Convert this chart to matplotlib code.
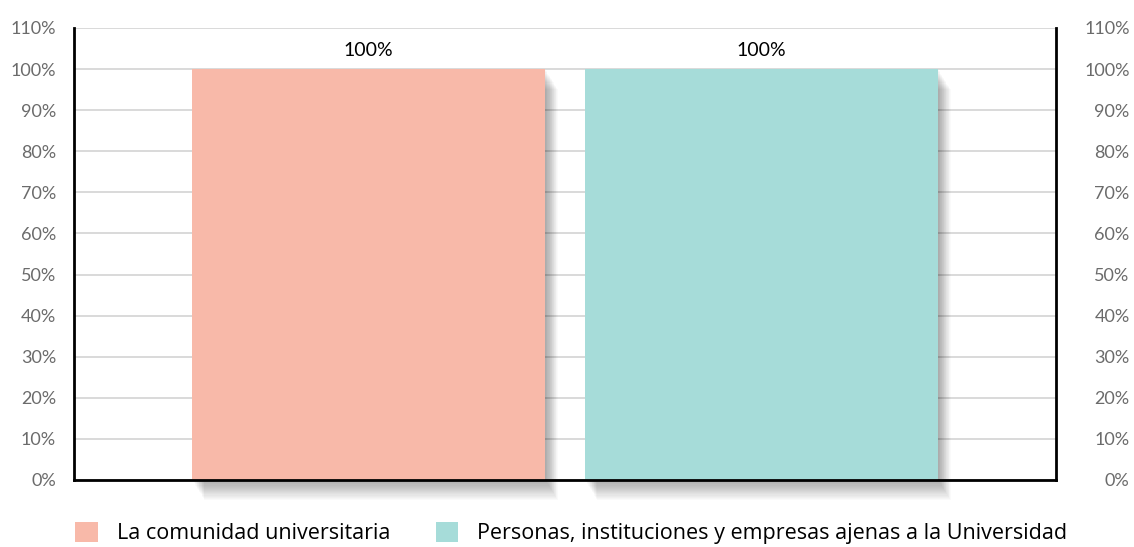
import matplotlib.pyplot as plt
import matplotlib.patheffects as pe
from matplotlib.patches import Patch

# Datos
categorias = ['La comunidad universitaria',
              'Personas, instituciones y empresas ajenas a la Universidad']
valores = [100, 100]
colores = ['#f8b9a9', '#a6dcd9']
ticks_y = list(range(0, 111, 10))

fig = plt.figure(figsize=(11.34, 5.47), dpi=100)
ax = fig.add_axes([74 / 1134, 1 - 480 / 547, 982 / 1134, 452 / 547])

# Sombra difuminada de las barras (varias capas desplazadas)
sombra = [pe.SimplePatchShadow(offset=(0.5 * k, -0.8 * k), shadow_rgbFace='black', alpha=0.02)
          for k in range(1, 19)]
sombra.append(pe.Normal())

x = range(len(valores))
barras = ax.bar(x, valores, width=0.9, color=colores, zorder=2, clip_on=False)
for b in barras:
    b.set_path_effects(sombra)

# Etiquetas de valor encima de cada barra
for xi, v in zip(x, valores):
    ax.text(xi, v + 2.5, f'{v}%', ha='center', va='bottom', fontsize=14,
            family='Lato', color='black')

ax.set_xlim(-0.75, 1.75)
ax.set_ylim(0, 110)
ax.set_yticks(ticks_y)
ax.set_yticklabels([f'{t}%' for t in ticks_y])
ax.set_xticks([])
ax.grid(axis='y', color='#d3d3d3', linewidth=1.2, zorder=0)
ax.set_axisbelow(True)

for lado in ['left', 'right', 'bottom']:
    ax.spines[lado].set_color('black')
    ax.spines[lado].set_linewidth(2)
    ax.spines[lado].set_zorder(5)
ax.spines['top'].set_visible(False)
ax.tick_params(axis='y', length=0, pad=13, labelsize=13, labelcolor='#6b6b6b')
for lbl in ax.get_yticklabels():
    lbl.set_family('Lato')

# Eje derecho con las mismas marcas
ax2 = ax.twinx()
ax2.set_ylim(0, 110)
ax2.set_yticks(ticks_y)
ax2.set_yticklabels([f'{t}%' for t in ticks_y])
ax2.tick_params(axis='y', length=0, pad=53, labelsize=13, labelcolor='#6b6b6b')
for lbl in ax2.get_yticklabels():
    lbl.set_family('Lato')
    lbl.set_horizontalalignment('right')
for s in ax2.spines.values():
    s.set_visible(False)

# Leyenda
handles = [Patch(facecolor=c, edgecolor='none') for c in colores]
fig.legend(handles, categorias, loc='lower left', bbox_to_anchor=(0.049, -0.03),
           ncol=2, frameon=False, prop={'family': 'Open Sans', 'size': 15.5},
           handlelength=1.05, handleheight=1.05, handletextpad=0.9, columnspacing=2.1)

plt.savefig('out.png', dpi=100)
